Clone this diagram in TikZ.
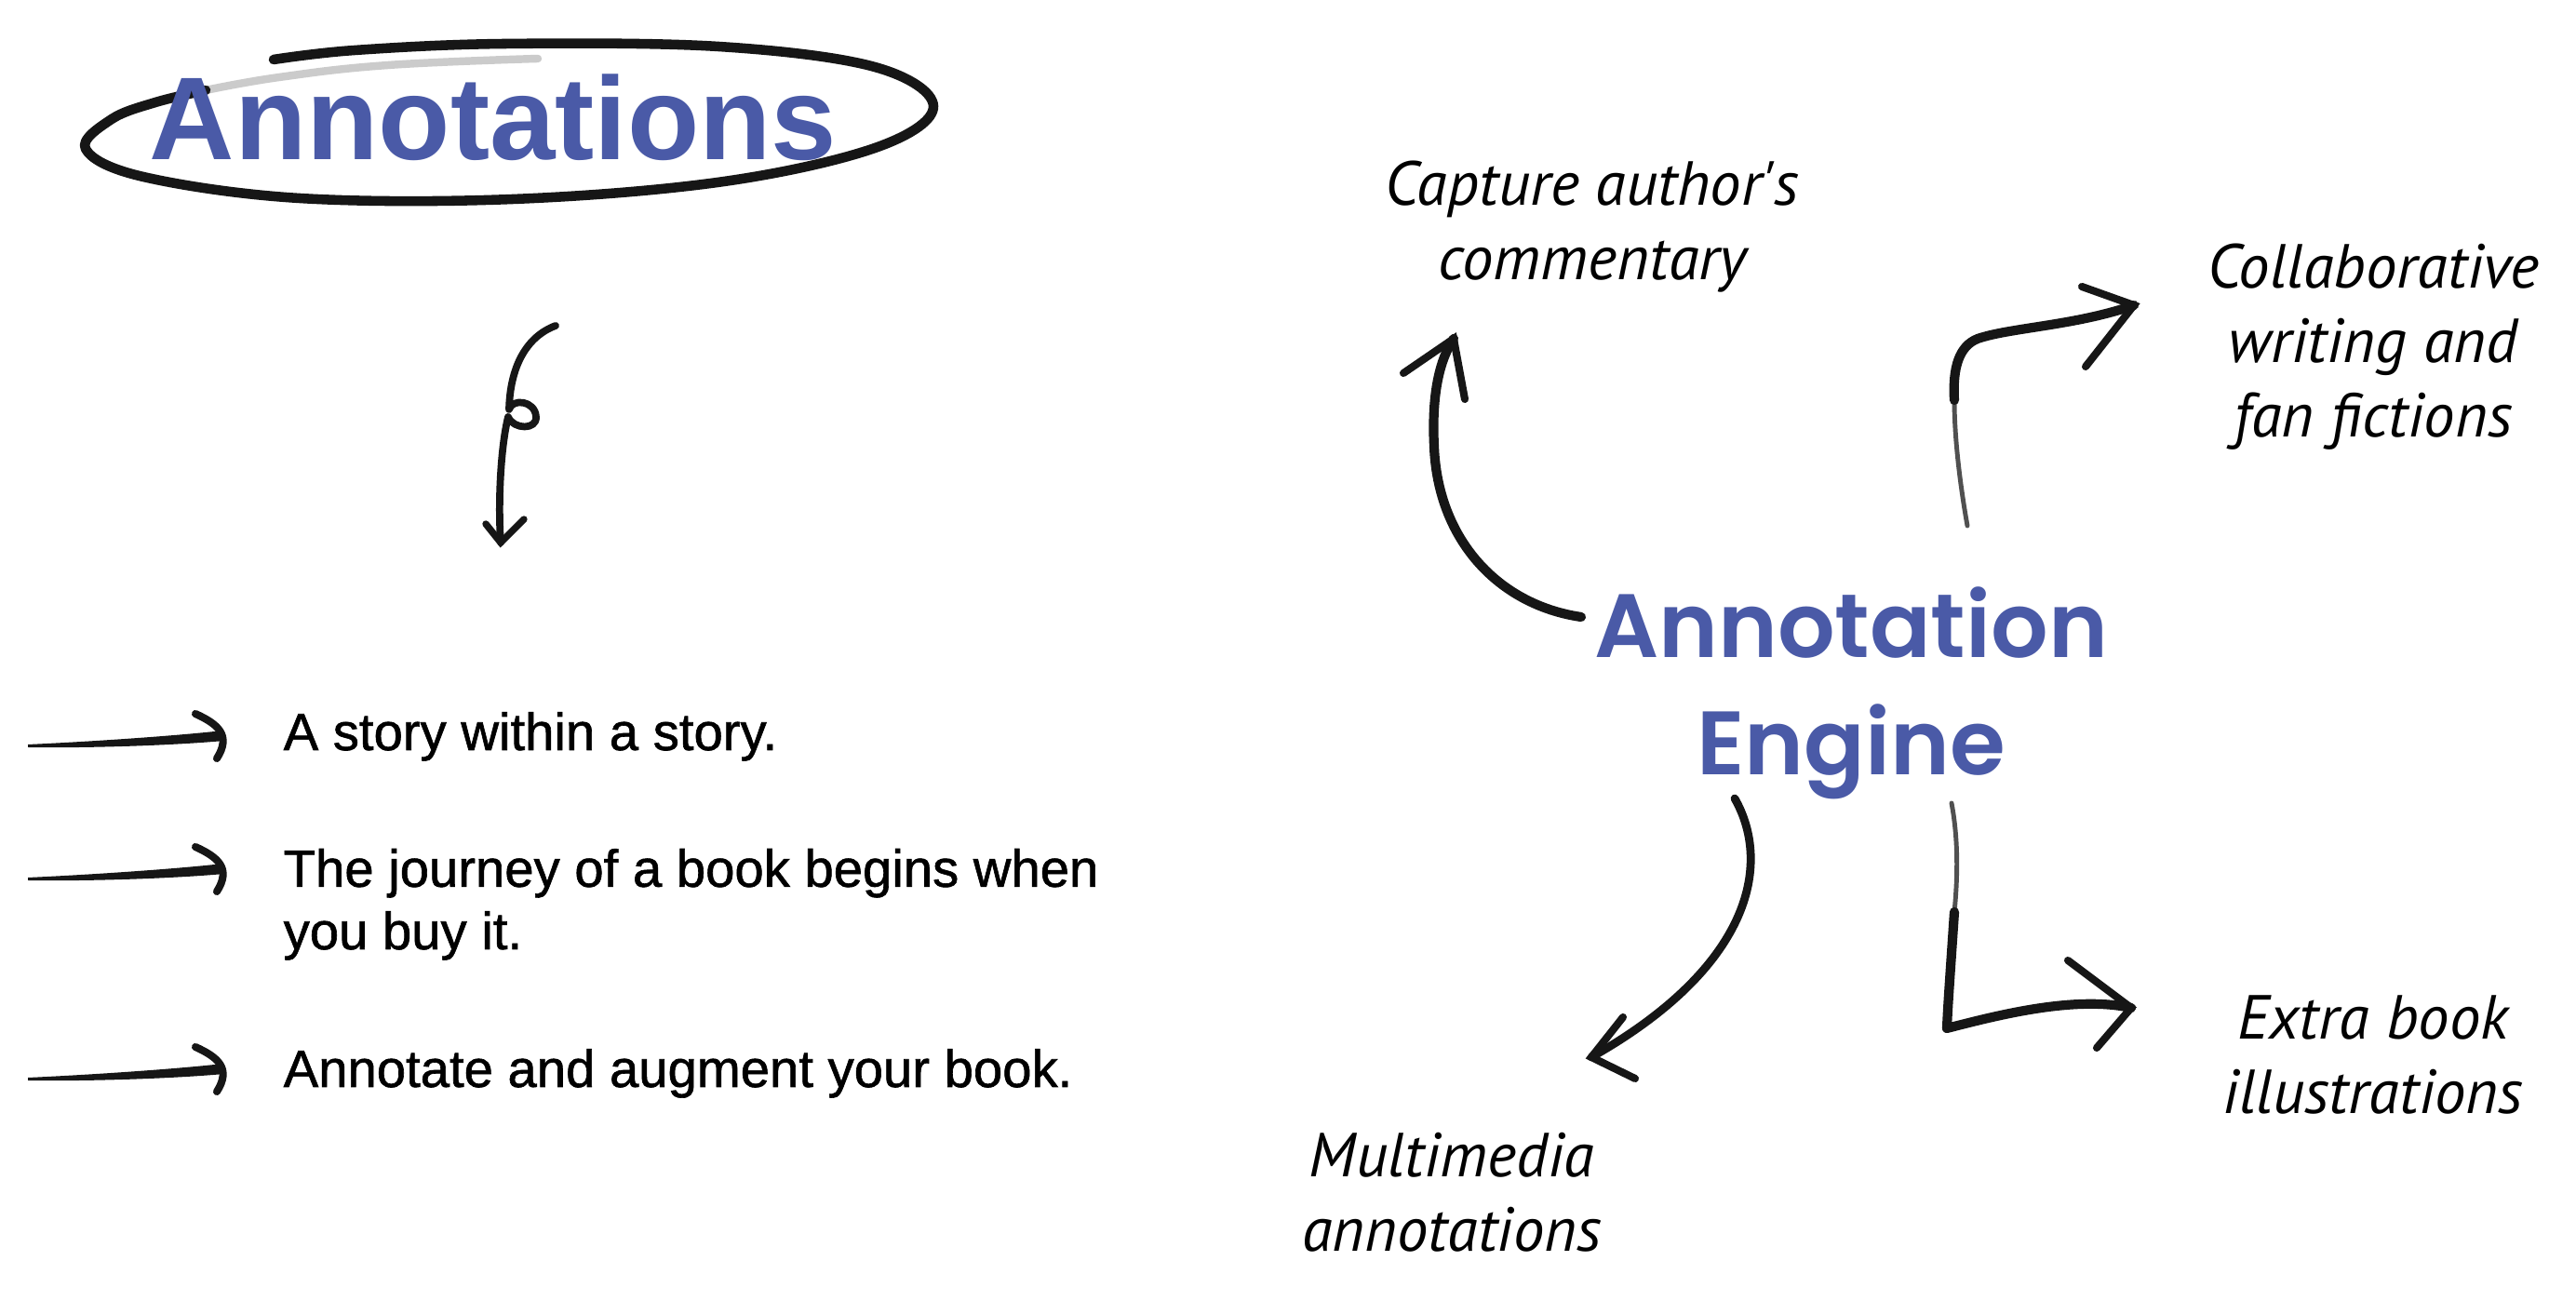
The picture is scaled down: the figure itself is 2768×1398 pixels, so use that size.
\documentclass[tikz,border=0pt]{standalone}
\usepackage{fontspec}
\newfontfamily\bodyfont{Liberation Sans}[FakeBold=1.1]
\newfontfamily\headfont{Liberation Sans Bold}
\newfontfamily\enginefont{Poppins SemiBold}
\newfontfamily\handfont{PT Sans}
\definecolor{inkblue}{RGB}{74,90,167}
\definecolor{inkgray}{RGB}{22,22,22}

\begin{document}
\begin{tikzpicture}[x=0.01cm,y=-0.01cm,
  sketch/.style={draw=inkgray, line width=2.9pt, line cap=round, line join=round},
  sketchthin/.style={draw=inkgray!75, line width=1.4pt, line cap=round, line join=round},
  barb/.style={draw=inkgray, line width=2.3pt, line cap=round},
  bodytext/.style={anchor=base west, align=left, inner sep=0,
    font=\bodyfont\fontsize{16}{19.1}\selectfont, text=black},
  handtext/.style={anchor=base, align=center, inner sep=0,
    font=\handfont\itshape\fontsize{19}{22.8}\selectfont, text=black},
  pics/brusharrow/.style={code={
    \fill[inkgray] (-216,10) .. controls (-150,7) and (-60,1) .. (-6,-5)
      -- (-5,6) .. controls (-60,11) and (-150,14) .. (-216,13) -- cycle;
    \draw[barb] (-36,-23) .. controls (-12,-12) and (3,0) .. (-13,25);
  }},
]
\useasboundingbox (0,0) rectangle (2768,1398);
\fill[white] (0,0) rectangle (2768,1398);

% ---- title with its pencil ring ----
\draw[draw=inkgray, line width=3pt, line cap=round, line join=round]
  plot[smooth, tension=0.6] coordinates {
    (294,64) (381,54) (543,47) (772,50) (940,72) (1003,114) (943,158)
    (778,195) (551,214) (322,213) (154,190) (92,160) (120,128) (167,110) (221,97)};
\draw[draw=inkgray, opacity=0.22, line width=2.4pt, line cap=round]
  plot[smooth, tension=0.7] coordinates {(221,97) (300,83) (417,70) (578,63)};
\node[anchor=base, inner sep=0, text=inkblue,
  font=\headfont\fontsize{36}{40}\selectfont] (title) at (530,172) {Annotations};

% ---- curly pointer below the title ----
\coordinate (curlS) at (597,350);
\coordinate (curlT) at (538,583);
\draw[draw=inkgray, line width=2.2pt, line cap=round, line join=round]
  (curlS) .. controls (565,362) and (548,395) .. (547,440)
  .. controls (550,428) and (575,430) .. (576,448)
  .. controls (577,462) and (552,462) .. (546,448)
  .. controls (538,480) and (535,540) .. (curlT);
\draw[barb, line width=2.1pt] (522,563) -- (curlT) -- (563,558);

% ---- bullet list ----
\node[bodytext] (s1) at (304,806) {A story within a story.};
\node[bodytext] (s2) at (304,1020) {The journey of a book begins when\\you buy it.};
\node[bodytext] (s3) at (304,1168) {Annotate and augment your book.};
\pic at (246,790) {brusharrow};
\pic at (246,933) {brusharrow};
\pic at (246,1148) {brusharrow};

% ---- engine hub ----
\node[anchor=base, align=center, inner sep=0, text=inkblue,
  font=\enginefont\fontsize{27.5}{36}\selectfont] (engine) at (1989,833)
  {Annotation\\Engine};

\node[handtext] (capture) at (1711,301) {Capture author's\\commentary};
\node[handtext] (collab) at (2550,470) {Collaborative\\writing and\\fan fictions};
\node[handtext] (extra) at (2550,1197) {Extra book\\illustrations};
\node[handtext] (multi) at (1560,1345) {Multimedia\\annotations};

% arrow ends next to the hub and the labels
\coordinate (capS) at (1699,663);  \coordinate (capT) at (1562,364);
\coordinate (colS) at (2114,565);  \coordinate (colT) at (2293,328);
\coordinate (mulS) at (1864,858);  \coordinate (mulT) at (1710,1136);
\coordinate (extS) at (2097,863);  \coordinate (extT) at (2290,1083);

% to "Capture author's commentary"
\draw[sketch] (capS) .. controls (1610,650) and (1545,580) .. (1541,480)
  .. controls (1538,420) and (1548,385) .. (capT);
\draw[barb] (1508,401) -- (capT) -- (1574,429);

% to "Collaborative writing and fan fictions"
\draw[sketchthin] (colS) .. controls (2106,520) and (2100,470) .. (2100,430);
\draw[sketch] (2100,430) .. controls (2098,395) and (2105,372) .. (2125,364)
  .. controls (2160,352) and (2230,350) .. (colT);
\draw[barb] (2237,308) -- (colT) -- (2241,394);

% to "Multimedia annotations"
\draw[sketch, line width=2.5pt] (mulS) .. controls (1905,930) and (1880,1040) .. (mulT);
\draw[barb] (1744,1093) -- (mulT) -- (1757,1159);

% to "Extra book illustrations"
\draw[sketchthin] (extS) .. controls (2104,900) and (2104,940) .. (2100,980);
\draw[sketch] (2100,980) .. controls (2096,1040) and (2093,1080) .. (2092,1105)
  .. controls (2150,1090) and (2230,1070) .. (extT);
\draw[barb] (2222,1032) -- (extT) -- (2253,1126);

\end{tikzpicture}
\end{document}
